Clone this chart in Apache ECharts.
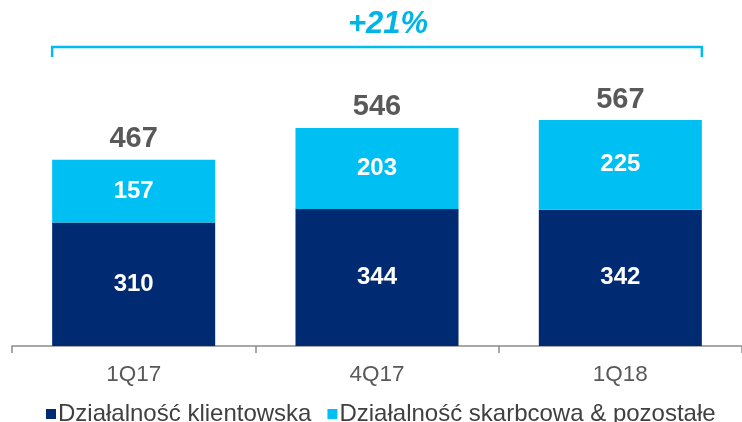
<!DOCTYPE html>
<html>
<head>
<meta charset="utf-8">
<script src="https://cdn.jsdelivr.net/npm/echarts@6/dist/echarts.min.js"></script>
<style>
	html, body {margin:0; padding:0; background:#fff;}
	#revenueChart {width:742px; height:422px;}
</style>
</head>
<body>
<div id="revenueChart"></div>
<script>
var categories = ['1Q17', '4Q17', '1Q18'];
var clientValues = [310, 344, 342];
var treasuryValues = [157, 203, 225];
var totalValues = [467, 546, 567];
var seriesNames = ['Działalność klientowska', 'Działalność skarbcowa & pozostałe'];
var growthText = '+21%';

var revenue = {
	chart: null,
	font: 'Liberation Sans, Arial, sans-serif',
	init: function(){
		revenue.chart = echarts.init(document.getElementById('revenueChart'));
		revenue.renderChart();
		revenue.drawBracket();
	},
	renderChart: function(){
		var option = {
			animation: false,
			color: ['#002B72', '#00BFF3'],
			grid: {left: 12, right: 0, top: 67, bottom: 76},
			legend: {
				data: seriesNames,
				left: 41,
				top: 397,
				icon: 'rect',
				itemWidth: 10,
				itemHeight: 10,
				itemGap: 16,
				textStyle: {fontFamily: revenue.font, fontSize: 24, color: '#404040', padding: [0, 0, 0, -3]}
			},
			xAxis: {
				type: 'category',
				data: categories,
				axisLine: {lineStyle: {color: '#8C8C8C', width: 1.5}},
				axisTick: {show: true, length: 7, lineStyle: {color: '#8C8C8C', width: 1.5}},
				axisLabel: {fontFamily: revenue.font, fontSize: 22.5, color: '#595959', margin: 17}
			},
			yAxis: {
				type: 'value',
				min: 0,
				max: 700,
				show: false,
				splitLine: {show: false}
			},
			series: [
				{
					name: seriesNames[0],
					type: 'bar',
					stack: 'total',
					barWidth: '67%',
					data: clientValues,
					label: {show: true, position: 'inside', fontFamily: revenue.font, fontSize: 24, fontWeight: 'bold', color: '#fff'}
				},
				{
					name: seriesNames[1],
					type: 'bar',
					stack: 'total',
					barWidth: '67%',
					data: treasuryValues,
					label: {show: true, position: 'inside', fontFamily: revenue.font, fontSize: 24, fontWeight: 'bold', color: '#fff'}
				},
				{
					// 0-height bar only to carry the total label
					name: 'total',
					type: 'bar',
					stack: 'total',
					barWidth: '67%',
					data: totalValues.map(function(){ return 0; }),
					itemStyle: {color: 'transparent'},
					label: {
						show: true,
						position: 'top',
						distance: 6,
						fontFamily: revenue.font,
						fontSize: 29,
						fontWeight: 'bold',
						color: '#595959',
						formatter: function(p){ return totalValues[p.dataIndex]; }
					}
				}
			]
		};
		revenue.chart.setOption(option, true);
	},
	drawBracket: function(){
		// bracket spans from the left edge of the first bar to the right edge of the last one
		var c = revenue.chart;
		var x0 = c.convertToPixel({xAxisIndex: 0}, categories[0]);
		var x1 = c.convertToPixel({xAxisIndex: 0}, categories[1]);
		var xn = c.convertToPixel({xAxisIndex: 0}, categories[categories.length - 1]);
		var half = (x1 - x0) * 0.67 / 2;
		var left = x0 - half, right = xn + half;
		var y = 47, drop = 10;
		c.setOption({
			graphic: [
				{
					type: 'polyline',
					shape: {points: [[left, y + drop], [left, y], [right, y], [right, y + drop]]},
					style: {stroke: '#00BDF0', lineWidth: 2.5, fill: null}
				},
				{
					type: 'text',
					x: (left + right) / 2 + 11,
					y: 24,
					style: {
						text: growthText,
						fontFamily: revenue.font,
						fontSize: 31,
						fontWeight: 'bold',
						fontStyle: 'italic',
						fill: '#00B5E6',
						align: 'center',
						verticalAlign: 'middle'
					}
				}
			]
		});
	}
};

revenue.init();
</script>
</body>
</html>
